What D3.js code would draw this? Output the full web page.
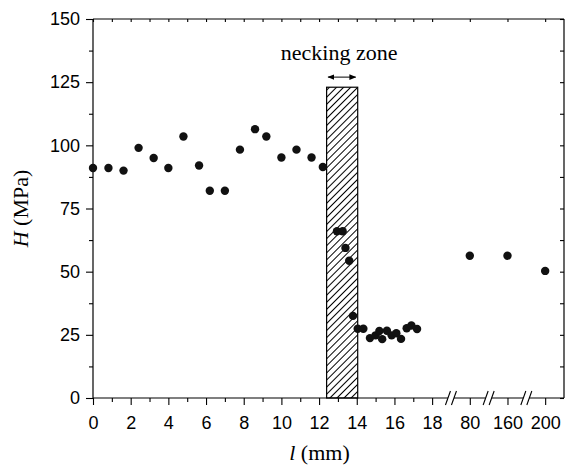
<!DOCTYPE html>
<html>
<head>
<meta charset="utf-8">
<script src="https://cdn.jsdelivr.net/npm/d3@7"></script>
<style>
  html, body { margin: 0; padding: 0; background: #fff; }
  svg { display: block; }
</style>
</head>
<body>
<div id="chart"></div>
<script>
// Hardness H (MPa) along the specimen length l (mm)
const lengthMM = [0, 0.82, 1.62, 2.42, 3.22, 4.0, 4.8, 5.63, 6.2, 7.0, 7.8, 8.6, 9.2, 10.0, 10.8, 11.6, 12.2,
  12.95, 13.25, 13.4, 13.6, 13.8, 14.05, 14.35, 14.7, 15.0, 15.2, 15.35, 15.6, 15.85, 16.1, 16.35, 16.65, 16.9, 17.2,
  80, 160, 200];
const hardness = [91, 91, 90, 99, 95, 91, 103.5, 92, 82, 82, 98.3, 106.4, 103.5, 95.2, 98.3, 95.2, 91.4,
  66, 66, 59.4, 54.3, 32.5, 27.4, 27.4, 23.7, 24.8, 26.5, 23.3, 26.6, 24.8, 25.6, 23.4, 27.6, 28.7, 27.3,
  56.3, 56.3, 50.3];

// broken x axis: real mm values -> axis units
const xStops = [0, 18, 80, 160, 200];
const xStopUnits = [0, 18, 20, 22, 24];
const xUnitMax = 25;
const xBreakUnits = [19, 21, 23];

const xTicks = [0, 2, 4, 6, 8, 10, 12, 14, 16, 18, 80, 160, 200];
const xMinorTicks = [1, 3, 5, 7, 9, 11, 13, 15, 17];
const yTicks = [0, 25, 50, 75, 100, 125, 150];
const yMinorTicks = [12.5, 37.5, 62.5, 87.5, 112.5, 137.5];

const neckZone = [12.4, 14.05];
const neckTop = 123;
const neckArrowH = 127;
const neckLabel = 'necking zone';

const W = 567, H = 468;
const margin = { top: 19, right: 3, bottom: 70, left: 93 };
const width = W - margin.left - margin.right;
const height = H - margin.top - margin.bottom;

const svg = d3.select('#chart').append('svg')
  .attr('width', W)
  .attr('height', H);

const g = svg.append('g')
  .attr('transform', `translate(${margin.left},${margin.top})`);

// scales
const unitScale = d3.scaleLinear().domain([0, xUnitMax]).range([0, width]);
const x = d3.scaleLinear().domain(xStops).range(xStopUnits.map(unitScale));
const y = d3.scaleLinear().domain([0, 150]).range([height, 0]);

const sansFont = '"Liberation Sans", Arial, sans-serif';
const serifFont = '"Liberation Serif", "Times New Roman", serif';

// hatch pattern for necking zone
const defs = svg.append('defs');
const pattern = defs.append('pattern')
  .attr('id', 'hatch')
  .attr('patternUnits', 'userSpaceOnUse')
  .attr('width', 5)
  .attr('height', 5)
  .attr('patternTransform', 'rotate(45)');
pattern.append('line')
  .attr('x1', 0.5).attr('y1', 0)
  .attr('x2', 0.5).attr('y2', 5)
  .attr('stroke', '#000')
  .attr('stroke-width', 1);

defs.append('marker')
  .attr('id', 'arrowhead')
  .attr('viewBox', '0 0 10 10')
  .attr('refX', 9).attr('refY', 5)
  .attr('markerWidth', 7).attr('markerHeight', 7)
  .attr('markerUnits', 'userSpaceOnUse')
  .attr('orient', 'auto-start-reverse')
  .append('path')
  .attr('d', 'M0,1 L10,5 L0,9 Z')
  .attr('fill', '#000');

// necking zone rectangle
g.append('rect')
  .attr('x', x(neckZone[0]))
  .attr('y', y(neckTop))
  .attr('width', x(neckZone[1]) - x(neckZone[0]))
  .attr('height', y(0) - y(neckTop))
  .attr('fill', 'url(#hatch)')
  .attr('stroke', '#000')
  .attr('stroke-width', 1.2);

g.append('line')
  .attr('x1', x(neckZone[0]) + 1.5)
  .attr('x2', x(neckZone[1]) - 2)
  .attr('y1', y(neckArrowH))
  .attr('y2', y(neckArrowH))
  .attr('stroke', '#000')
  .attr('stroke-width', 1)
  .attr('marker-start', 'url(#arrowhead)')
  .attr('marker-end', 'url(#arrowhead)');

g.append('text')
  .attr('x', (x(neckZone[0]) + x(neckZone[1])) / 2 - 3)
  .attr('y', y(neckArrowH) - 17)
  .attr('text-anchor', 'middle')
  .attr('font-family', serifFont)
  .attr('font-size', '22px')
  .attr('fill', '#000')
  .text(neckLabel);

// axes
function styleAxis(sel) {
  sel.select('.domain').remove();
  sel.selectAll('line').attr('stroke', '#000').attr('stroke-width', 1.1);
  sel.selectAll('text')
    .attr('font-family', sansFont)
    .attr('font-size', '18px')
    .attr('fill', '#000');
}

g.append('g')
  .attr('transform', `translate(0,${height})`)
  .call(d3.axisBottom(x).tickValues(xTicks).tickSize(7).tickPadding(11).tickFormat(d3.format('d')))
  .call(styleAxis);

g.append('g')
  .attr('transform', `translate(0,${height})`)
  .call(d3.axisBottom(x).tickValues(xMinorTicks).tickSize(4).tickFormat(''))
  .call(styleAxis);

g.append('g')
  .call(d3.axisLeft(y).tickValues(yTicks).tickSize(7).tickPadding(6))
  .call(styleAxis);

g.append('g')
  .call(d3.axisLeft(y).tickValues(yMinorTicks).tickSize(4).tickFormat(''))
  .call(styleAxis);

// mirrored inner ticks on top and right
g.append('g')
  .call(d3.axisBottom(x).tickValues(xTicks.concat(xMinorTicks)).tickSize(3).tickFormat(''))
  .call(styleAxis);

g.append('g')
  .attr('transform', `translate(${width},0)`)
  .call(d3.axisLeft(y).tickValues(yTicks.concat(yMinorTicks)).tickSize(4).tickFormat(''))
  .call(styleAxis);

// frame (bottom edge broken)
const frame = g.append('g')
  .attr('stroke', '#000')
  .attr('stroke-width', 1.2)
  .attr('fill', 'none');

frame.append('line').attr('x1', 0).attr('x2', 0).attr('y1', 0).attr('y2', height);
frame.append('line').attr('x1', width).attr('x2', width).attr('y1', 0).attr('y2', height);
frame.append('line').attr('x1', 0).attr('x2', width).attr('y1', 0).attr('y2', 0);

const gapHalf = 3;
const cuts = [0].concat(xBreakUnits.map(unitScale)).concat([width]);
for (let i = 0; i < cuts.length - 1; i++) {
  const a = i === 0 ? cuts[i] : cuts[i] + gapHalf;
  const b = i === cuts.length - 2 ? cuts[i + 1] : cuts[i + 1] - gapHalf;
  frame.append('line').attr('x1', a).attr('x2', b).attr('y1', height).attr('y2', height);
}
xBreakUnits.forEach(u => {
  const cx = unitScale(u);
  [-gapHalf, gapHalf].forEach(off => {
    frame.append('line')
      .attr('x1', cx + off - 2.5).attr('y1', height + 7)
      .attr('x2', cx + off + 2.5).attr('y2', height - 7)
      .attr('stroke-width', 1.1);
  });
});

// data points
const points = lengthMM.map((l, i) => ({ l, h: hardness[i] }));
g.append('g')
  .selectAll('circle')
  .data(points)
  .join('circle')
  .attr('cx', d => x(d.l))
  .attr('cy', d => y(d.h))
  .attr('r', 4.2)
  .attr('fill', '#111');

// axis titles
const xTitle = svg.append('text')
  .attr('x', margin.left + width / 2 - 9)
  .attr('y', H - 8)
  .attr('text-anchor', 'middle')
  .attr('font-family', serifFont)
  .attr('font-size', '22px')
  .attr('fill', '#000');
xTitle.append('tspan').attr('font-style', 'italic').text('l');
xTitle.append('tspan').text(' (mm)');

const yTitle = svg.append('text')
  .attr('transform', `translate(28,${margin.top + height / 2}) rotate(-90)`)
  .attr('text-anchor', 'middle')
  .attr('font-family', serifFont)
  .attr('font-size', '22px')
  .attr('fill', '#000');
yTitle.append('tspan').attr('font-style', 'italic').text('H');
yTitle.append('tspan').text(' (MPa)');
</script>
</body>
</html>
